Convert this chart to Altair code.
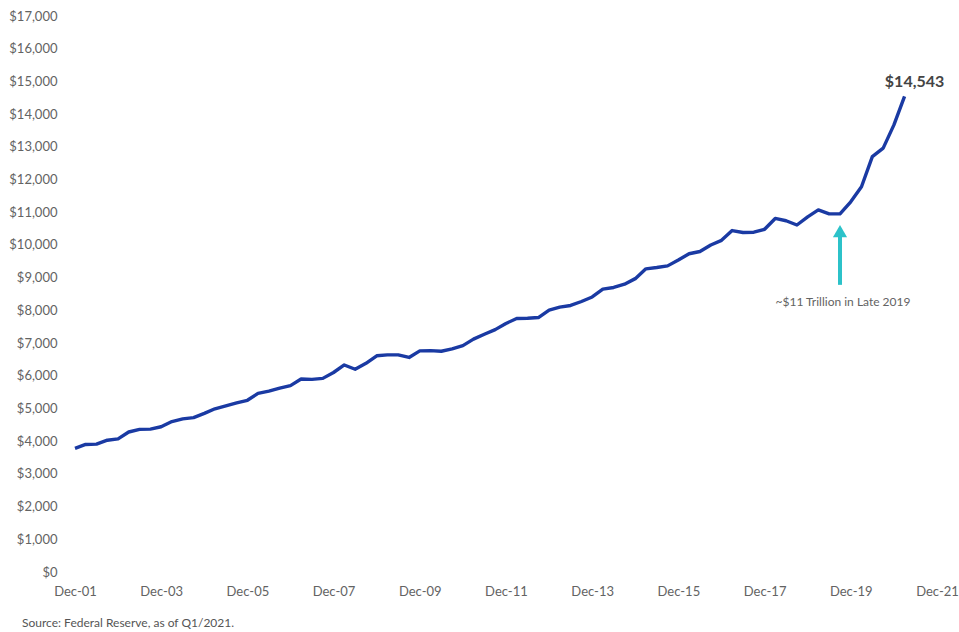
import altair as alt
import pandas as pd

# Quarterly observations, Dec 2001 .. Mar 2021 (billions of dollars)
dates = pd.date_range("2001-12-01", periods=78, freq="3MS").strftime("%Y-%m-%d").tolist()
values = [
    3780, 3900, 3910, 4030, 4070, 4280, 4360, 4370, 4440, 4600,
    4680, 4720, 4850, 4990, 5080, 5170, 5250, 5460, 5530, 5620,
    5700, 5900, 5890, 5920, 6100, 6330, 6200, 6380, 6610, 6640,
    6640, 6560, 6760, 6770, 6750, 6820, 6920, 7120, 7270, 7410,
    7600, 7750, 7760, 7780, 8010, 8100, 8150, 8270, 8410, 8650,
    8700, 8800, 8970, 9270, 9310, 9360, 9540, 9730, 9800, 10000,
    10140, 10440, 10380, 10390, 10480, 10810, 10740, 10610, 10860, 11070,
    10950, 10950, 11320, 11780, 12700, 12960, 13670, 14543,
]
tick_years = [2001, 2003, 2005, 2007, 2009, 2011, 2013, 2015, 2017, 2019, 2021]
y_ticks = list(range(0, 17001, 1000))

end_label = ["$14,543"]
arrow_date = ["2019-09-01"]
arrow_base = [8780]
arrow_top = [10250]
arrow_head = [10420]
arrow_text = ["~$11 Trillion in Late 2019"]
arrow_text_y = [8270]
source_text = "Source: Federal Reserve, as of Q1/2021."

FONT = "Lato"
LINE = "#1a3aa3"
CYAN = "#2cc2c9"
GRAY = "#636363"

df = pd.DataFrame({"date": dates, "value": values})
last = df.tail(1).assign(label=end_label)
arrow = pd.DataFrame({"date": arrow_date, "base": arrow_base, "top": arrow_top,
                      "head": arrow_head, "text": arrow_text, "ty": arrow_text_y})

x_scale = alt.Scale(type="utc", domain=[alt.DateTime(year=2001, month=12, date=1, utc=True),
                                        alt.DateTime(year=2021, month=12, date=1, utc=True)])
y_scale = alt.Scale(domain=[0, 17000], nice=False)

x_axis = alt.Axis(
    values=[alt.DateTime(year=y, month=12, date=1, utc=True) for y in tick_years],
    labelExpr="utcFormat(datum.value, '%b-%y')",
    title=None, domain=False, ticks=False, grid=False,
    labelFont=FONT, labelFontSize=13, labelColor=GRAY, labelPadding=13,
    labelFlush=False, labelOverlap=False,
)
y_axis = alt.Axis(
    values=y_ticks, format="$,.0f", title=None, domain=False, ticks=False, grid=False,
    labelFont=FONT, labelFontSize=13, labelColor=GRAY, labelPadding=18,
    labelFlush=False, labelOverlap=False,
)


def X():
    return alt.X("date:T", scale=x_scale, axis=x_axis)


def Y(field):
    return alt.Y(f"{field}:Q", scale=y_scale, axis=y_axis)


line = alt.Chart(df).mark_line(color=LINE, strokeWidth=3.4, strokeJoin="round").encode(
    x=X(), y=Y("value"),
)

end_txt = alt.Chart(last).mark_text(
    font=FONT, fontSize=16, fontWeight="bold", color="#444444", dx=10, dy=-14
).encode(x=X(), y=Y("value"), text="label:N")

shaft = alt.Chart(arrow).mark_rule(color=CYAN, strokeWidth=4).encode(
    x=X(), y=Y("base"), y2="top:Q"
)
head = alt.Chart(arrow).mark_point(shape="triangle-up", filled=True, opacity=1,
                                   color=CYAN, size=200).encode(
    x=X(), y=Y("head")
)
arrow_lbl = alt.Chart(arrow).mark_text(font=FONT, fontSize=12, color=GRAY, dx=3,
                                       baseline="middle").encode(
    x=X(), y=Y("ty"), text="text:N"
)
source = alt.Chart(last).mark_text(font=FONT, fontSize=12, color="#555555",
                                   align="left", baseline="middle").encode(
    x=alt.value(-53), y=alt.value(607), text=alt.value(source_text)
)

chart = alt.layer(line, end_txt, shaft, head, arrow_lbl, source).properties(
    width=862, height=556,
    background="white",
    padding={"left": 75, "top": 16, "right": 22, "bottom": 60},
    autosize=alt.AutoSizeParams(type="none"),
).configure_view(strokeWidth=0, stroke="transparent")

chart.save("out.html", embed_options={"renderer": "svg", "actions": False})
